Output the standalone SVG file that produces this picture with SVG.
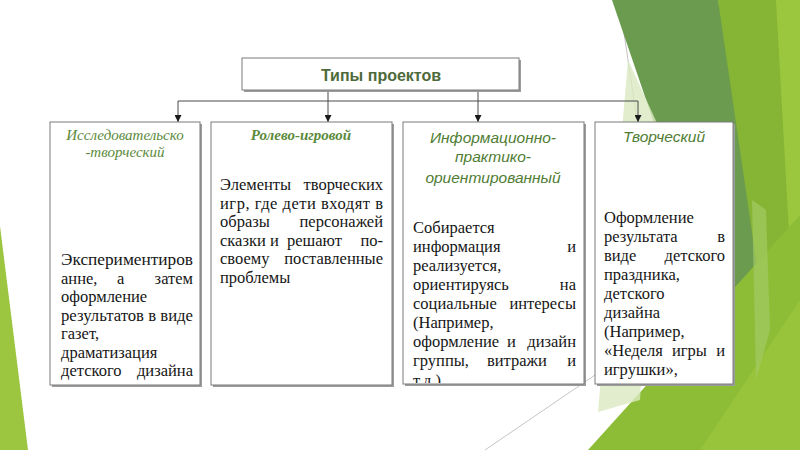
<svg xmlns="http://www.w3.org/2000/svg" width="800" height="450" viewBox="0 0 800 450">
<defs>
<style>
.box{fill:#fff;stroke:#7a7a7a;stroke-width:1}
.sh{fill:#9c9c9c}
.con{fill:none;stroke:#4a4a4a;stroke-width:1}
.b{font-family:"Liberation Serif","Times New Roman",serif;font-size:16.5px;fill:#161616}
.r{text-anchor:end}
.hs{font-family:"Liberation Serif","Times New Roman",serif;font-style:italic;font-size:15px;fill:#5b8a3b;text-anchor:middle}
.hn{font-family:"Liberation Sans",Arial,sans-serif;font-style:italic;font-size:15.5px;fill:#4f7d33;text-anchor:middle}
.title{font-family:"Liberation Sans",Arial,sans-serif;font-weight:bold;font-size:16px;fill:#4e6a3a;text-anchor:middle}
.deco{stroke:#c4c4c4;stroke-width:1;fill:none}
</style>
<marker id="arr" viewBox="0 0 8 8" refX="8" refY="4" markerWidth="7" markerHeight="7" markerUnits="userSpaceOnUse" orient="auto">
<path d="M0,0 L8,4 L0,8 z" fill="#1a1a1a"/>
</marker>
<clipPath id="c3"><rect x="403" y="122" width="181" height="261"/></clipPath>
</defs>
<rect width="800" height="450" fill="#ffffff"/>
<g id="decoration">
<polygon points="0,226 28,450 0,450" fill="#9cc63f"/>
<line class="deco" x1="619" y1="0" x2="640" y2="140"/>
<line class="deco" x1="485" y1="450" x2="620" y2="358"/>
<polygon points="718,0 800,0 800,450 740,450" fill="#86b535"/>
<polygon points="776,0 800,0 800,450 770,450 790,250" fill="#9bc73f"/>
<polygon points="612,0 718,0 762,300 752,410" fill="#6b9b4e"/>
<polygon points="588,450 800,215 800,450" fill="#8dbc37"/>
<polygon points="700,450 800,300 800,450" fill="#97c43b"/>
<polygon points="628,60 657,123 640,400 598,412" fill="#d9e9c0" opacity="0.8"/>
<polygon points="752,200 766,210 770,330 756,380" fill="#a3cb62" opacity="0.7"/>
</g>
<g id="connectors">
<path class="con" d="M178,101 H638"/>
<path class="con" d="M328,90 V122" marker-end="url(#arr)"/>
<path class="con" d="M478,90 V122" marker-end="url(#arr)"/>
<path class="con" d="M178,101 V122" marker-end="url(#arr)"/>
<path class="con" d="M638,101 V122" marker-end="url(#arr)"/>
</g>
<g id="node-title">
<rect class="sh" x="244" y="60" width="277" height="32"/>
<rect class="box" x="242" y="58" width="277" height="32"/>
<text class="title" x="381" y="81">Типы проектов</text>
</g>
<g id="node-research">
<rect class="sh" x="52" y="124" width="150" height="263"/>
<rect class="box" x="50" y="122" width="150" height="263"/>
<text class="hs" x="125" y="140">Исследовательско</text>
<text class="hs" x="125" y="157">-творческий</text>
<text class="b" x="61" y="265" textLength="132" lengthAdjust="spacingAndGlyphs">Экспериментиров</text>
<text class="b" x="61" y="283.5">анне,</text><text class="b" x="117" y="283.5">а</text><text class="b r" x="193" y="283.5">затем</text>
<text class="b" x="61" y="302">оформление</text>
<text class="b" x="61" y="320.5" textLength="132" lengthAdjust="spacingAndGlyphs">результатов в виде</text>
<text class="b" x="61" y="339">газет,</text>
<text class="b" x="61" y="357.5">драматизация</text>
<text class="b" x="61" y="376">детского</text><text class="b r" x="193" y="376">дизайна</text>
</g>
<g id="node-role">
<rect class="sh" x="213" y="124" width="181" height="263"/>
<rect class="box" x="211" y="122" width="181" height="263"/>
<text class="hs" x="301" y="140" font-weight="bold">Ролево-игровой</text>
<text class="b" x="220" y="190">Элементы</text><text class="b r" x="383" y="190">творческих</text>
<text class="b" x="220" y="208.5" textLength="163" lengthAdjust="spacing">игр, где дети входят в</text>
<text class="b" x="220" y="227">образы</text><text class="b r" x="383" y="227">персонажей</text>
<text class="b" x="220" y="245.5">сказки</text><text class="b" x="270" y="245.5">и</text><text class="b" x="287" y="245.5">решают</text><text class="b r" x="383" y="245.5">по-</text>
<text class="b" x="220" y="264">своему</text><text class="b r" x="383" y="264">поставленные</text>
<text class="b" x="220" y="282.5">проблемы</text>
</g>
<g id="node-info">
<rect class="sh" x="405" y="124" width="181" height="262"/>
<rect class="box" x="403" y="122" width="181" height="262"/>
<text class="hn" x="493" y="143">Информационно-</text>
<text class="hn" x="493" y="162">практико-</text>
<text class="hn" x="493" y="183">ориентированный</text>
<g clip-path="url(#c3)">
<text class="b" x="413" y="233">Собирается</text>
<text class="b" x="413" y="252">информация</text><text class="b r" x="576" y="252">и</text>
<text class="b" x="413" y="271">реализуется,</text>
<text class="b" x="413" y="290">ориентируясь</text><text class="b r" x="576" y="290">на</text>
<text class="b" x="413" y="309">социальные</text><text class="b r" x="576" y="309">интересы</text>
<text class="b" x="413" y="328">(Например,</text>
<text class="b" x="413" y="347">оформление</text><text class="b" x="507" y="347">и</text><text class="b r" x="576" y="347">дизайн</text>
<text class="b" x="413" y="366">группы,</text><text class="b" x="487" y="366">витражи</text><text class="b r" x="576" y="366">и</text>
<text class="b" x="413" y="386">т.д.)</text>
</g>
</g>
<g id="node-creative">
<rect class="sh" x="597" y="124" width="138" height="262"/>
<rect class="box" x="595" y="122" width="138" height="262"/>
<text class="hn" x="664" y="142">Творческий</text>
<text class="b" x="604" y="223">Оформление</text>
<text class="b" x="604" y="242">результата</text><text class="b r" x="725" y="242">в</text>
<text class="b" x="604" y="261">виде</text><text class="b r" x="725" y="261">детского</text>
<text class="b" x="604" y="280">праздника,</text>
<text class="b" x="604" y="299">детского</text>
<text class="b" x="604" y="318">дизайна</text>
<text class="b" x="604" y="337">(Например,</text>
<text class="b" x="604" y="356">«Неделя</text><text class="b" x="672" y="356">игры</text><text class="b r" x="725" y="356">и</text>
<text class="b" x="604" y="375">игрушки»,</text>
</g>
</svg>
